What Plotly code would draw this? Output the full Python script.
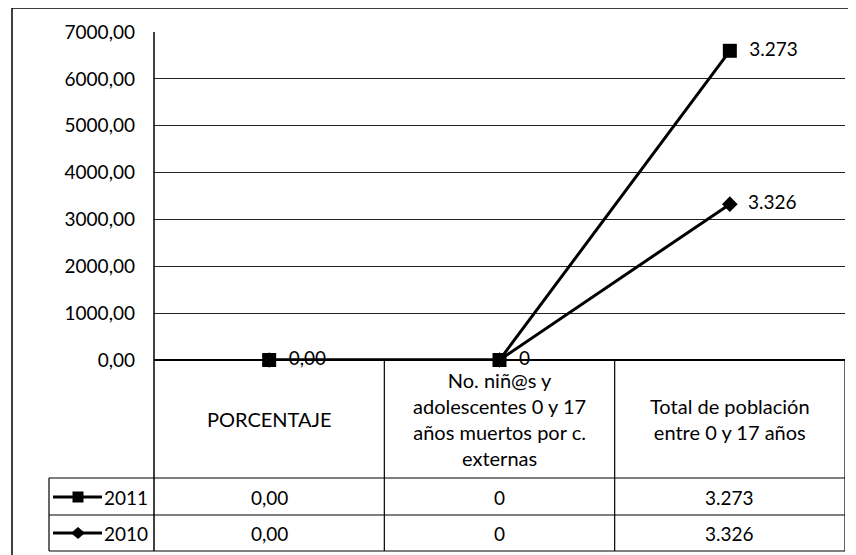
import plotly.graph_objects as go

# ---------------- data ----------------
categories = [
    "PORCENTAJE",
    "No. niñ@s y adolescentes 0 y 17 años muertos por c. externas",
    "Total de población entre 0 y 17 años",
]
header_labels = [
    "PORCENTAJE",
    "No. niñ@s y<br>adolescentes 0 y 17<br>años muertos por c.<br>externas",
    "Total de población<br>entre 0 y 17 años",
]
values_2011 = [0.00, 0, 3273]
values_2010 = [0.00, 0, 3326]
decimals = [2, 0, 0]
y_ticks = [0, 1000, 2000, 3000, 4000, 5000, 6000, 7000]


def fmt(v, d):
    s = f"{v:,.{d}f}"
    return s.replace(",", "X").replace(".", ",").replace("X", ".")


text_2011 = [fmt(v, d) for v, d in zip(values_2011, decimals)]
text_2010 = [fmt(v, d) for v, d in zip(values_2010, decimals)]

# stacked line chart: 2011 sits on top of 2010
stack_2010 = list(values_2010)
stack_2011 = [a + b for a, b in zip(values_2010, values_2011)]

PAD = "\u00a0\u00a0"
label_2011 = [PAD + t for t in text_2011]
# where both series coincide, show the label once
label_2010 = [PAD + t if s10 != s11 else "" for t, s10, s11 in zip(text_2010, stack_2010, stack_2011)]

# ---------------- layout constants (reference pixel coords) ----------------
OFF = 8                      # page body margin
W, H = 856 - OFF, 555 - OFF
L, R, T, B = 154, 845, 32, 360
FONT = "Lato, Carlito, Calibri, sans-serif"
FS_NUM = 19
FS_TXT = 20


def px(x):
    return (x - L) / (R - L)


def py(y):
    return (B - y) / (B - T)


fig = go.Figure()

fig.add_trace(go.Scatter(
    x=categories, y=stack_2010, name="2010",
    mode="lines+markers+text", text=label_2010, textposition="middle right",
    textfont=dict(family=FONT, size=FS_NUM, color="black"),
    line=dict(color="black", width=3),
    marker=dict(symbol="diamond", size=12, color="black"),
    showlegend=False, cliponaxis=False,
))
fig.add_trace(go.Scatter(
    x=categories, y=stack_2011, name="2011",
    mode="lines+markers+text", text=label_2011, textposition="middle right",
    textfont=dict(family=FONT, size=FS_NUM, color="black"),
    line=dict(color="black", width=3),
    marker=dict(symbol="square", size=14, color="black"),
    showlegend=False, cliponaxis=False,
))

shapes = []
LC = "black"
# outer frame
shapes.append(dict(type="rect", xref="paper", yref="paper",
                   x0=px(12), x1=px(880), y0=py(8), y1=py(600),
                   line=dict(color=LC, width=1.5)))
# left axis line extended through the table
shapes.append(dict(type="line", xref="paper", yref="paper",
                   x0=0, x1=0, y0=py(T), y1=py(551), line=dict(color=LC, width=1.5)))
# vertical category separators in the table
for xb in [0.5, 1.5, 2.5]:
    shapes.append(dict(type="line", xref="x", yref="paper",
                       x0=xb, x1=xb, y0=0, y1=py(551), line=dict(color=LC, width=1.2)))
# horizontal table lines
for yl in [478, 515, 551]:
    shapes.append(dict(type="line", xref="paper", yref="paper",
                       x0=px(49), x1=1, y0=py(yl), y1=py(yl), line=dict(color=LC, width=1.2)))
# legend cell left border
shapes.append(dict(type="line", xref="paper", yref="paper",
                   x0=px(49), x1=px(49), y0=py(478), y1=py(551), line=dict(color=LC, width=1.2)))

annotations = []
# header labels
for c, lab in zip(categories, header_labels):
    annotations.append(dict(x=c, xref="x", y=py(419), yref="paper", text=lab,
                            showarrow=False, font=dict(family=FONT, size=FS_TXT, color="black"),
                            align="center", xanchor="center", yanchor="middle"))

rows = [("2011", text_2011, 497, "square"), ("2010", text_2010, 533, "diamond")]
for name, texts, yc, sym in rows:
    for c, t in zip(categories, texts):
        annotations.append(dict(x=c, xref="x", y=py(yc), yref="paper", text=t,
                                showarrow=False, font=dict(family=FONT, size=FS_NUM, color="black"),
                                xanchor="center", yanchor="middle"))
    # legend key
    shapes.append(dict(type="line", xref="paper", yref="paper",
                       x0=px(53), x1=px(102), y0=py(yc), y1=py(yc),
                       line=dict(color=LC, width=3)))
    xc = 78
    if sym == "square":
        shapes.append(dict(type="rect", xref="paper", yref="paper",
                           x0=px(xc - 5.5), x1=px(xc + 5.5), y0=py(yc - 5.5), y1=py(yc + 5.5),
                           fillcolor=LC, line=dict(color=LC, width=0)))
    else:
        path = (f"M {px(xc - 7)} {py(yc)} L {px(xc)} {py(yc - 6)} "
                f"L {px(xc + 7)} {py(yc)} L {px(xc)} {py(yc + 6)} Z")
        shapes.append(dict(type="path", xref="paper", yref="paper", path=path,
                           fillcolor=LC, line=dict(color=LC, width=0)))
    annotations.append(dict(x=px(102), xref="paper", y=py(yc), yref="paper", text=name,
                            showarrow=False, font=dict(family=FONT, size=FS_NUM, color="black"),
                            xanchor="left", yanchor="middle"))

fig.update_layout(
    width=W, height=H,
    margin=dict(l=L - OFF, r=(856 - OFF) - (R - OFF), t=T - OFF, b=(555 - OFF) - (B - OFF)),
    paper_bgcolor="white", plot_bgcolor="white",
    separators=",.",
    font=dict(family=FONT, size=FS_NUM, color="black"),
    shapes=shapes, annotations=annotations,
    xaxis=dict(type="category", categoryorder="array", categoryarray=categories,
               range=[-0.5, 2.5], showticklabels=False, showgrid=False,
               zeroline=False, showline=False, ticks=""),
    yaxis=dict(range=[0, 7000], tickvals=y_ticks, tickformat=".2f",
               showgrid=True, gridcolor="#222", gridwidth=1,
               zeroline=True, zerolinecolor="black", zerolinewidth=1.5,
               showline=False, ticks="", ticklabelstandoff=18,
               tickfont=dict(family=FONT, size=FS_NUM, color="black")),
)

fig.write_html("out.html")
